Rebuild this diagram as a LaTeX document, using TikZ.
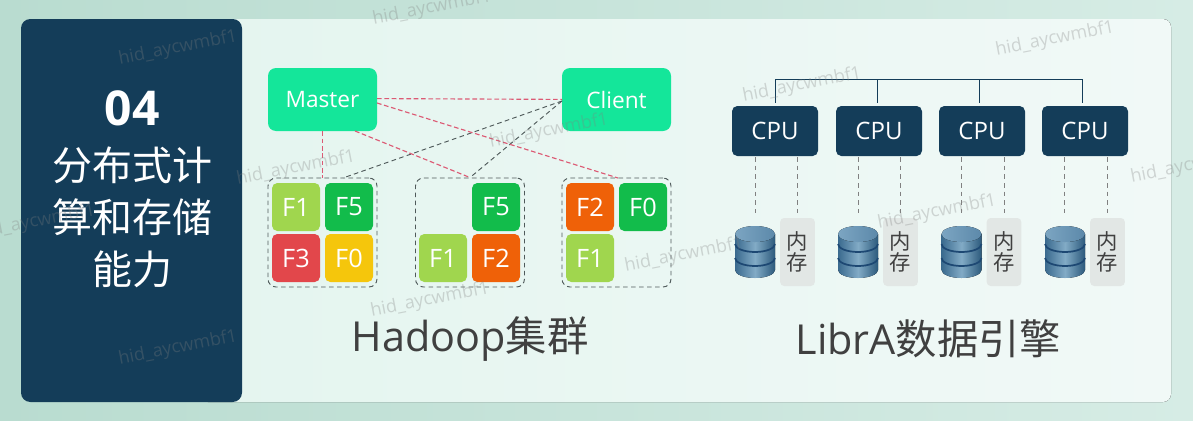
\documentclass[tikz,border=0pt]{standalone}
\usepackage{fontspec}
\setmainfont{Open Sans}
\newfontfamily\cjk{Noto Sans CJK SC}
\definecolor{navy}{HTML}{143D59}
\definecolor{mint}{HTML}{14E69A}
\definecolor{limeF}{HTML}{A0D64E}
\definecolor{greenF}{HTML}{12BC4B}
\definecolor{redF}{HTML}{E2474B}
\definecolor{yellowF}{HTML}{F5C60C}
\definecolor{orangeF}{HTML}{EF6108}
\definecolor{memgray}{HTML}{E2E7E5}
\definecolor{linkred}{HTML}{DC5A74}
\definecolor{linkgray}{HTML}{4F5A5A}
\definecolor{bgleft}{HTML}{B9DCD0}
\definecolor{bgright}{HTML}{D6ECE5}
\definecolor{panelleft}{HTML}{E4F5EF}
\definecolor{panelright}{HTML}{F1F9F7}
\definecolor{dbedge}{HTML}{3A6A8E}
\definecolor{dbmid}{HTML}{82ABC6}
\definecolor{dbdark}{HTML}{2C5A7C}
\definecolor{dbband}{HTML}{1D4873}
\definecolor{dbtopl}{HTML}{7CA5C2}
\definecolor{dbtopr}{HTML}{5C89AA}
\tikzset{
	rolebox/.style={fill=mint,rounded corners=6pt,inner sep=0,minimum width=81.75pt,minimum height=47.25pt,text=white,font=\fontsize{17}{20}\selectfont},
	groupbox/.style={draw=linkgray,dash pattern=on 3.5pt off 2.5pt,line width=.7pt,rounded corners=6pt,inner sep=0,minimum width=81.75pt,minimum height=81.75pt},
	filebox/.style={rounded corners=4pt,inner sep=0,minimum size=36pt,text=white,font=\fontsize{19}{22}\selectfont},
	cpubox/.style={fill=navy,rounded corners=4pt,inner sep=0,minimum width=64.5pt,minimum height=37.5pt,text=white,font=\fontsize{18}{22}\selectfont},
	membox/.style={fill=memgray,rounded corners=3pt,inner sep=0,minimum width=26pt,minimum height=51pt,align=center,text=black!75,font=\cjk\fontsize{16}{16}\selectfont},
	titletext/.style={inner sep=0,text=black!75,font=\fontsize{31}{38}\selectfont},
	redlink/.style={linkred,dash pattern=on 3.5pt off 2pt,line width=.85pt},
	graylink/.style={linkgray,dash pattern=on 3.5pt off 2.5pt,line width=.7pt},
	cpulink/.style={black!50,dash pattern=on 3.5pt off 3pt,line width=.6pt},
	marktext/.style={inner sep=0,rotate=11,text=gray,opacity=0.3,font=\fontsize{13.5}{16}\selectfont},
	dbicon/.pic={
		\fill[left color=dbedge,right color=dbdark,middle color=dbmid] (-20,8) -- (-20,44) arc (180:0:20 and 8) -- (20,8) -- cycle; % Body
		\draw[dbband,line width=1.3pt] (-20,18) arc (180:0:20 and 8); % Upper band
		\draw[dbband,line width=1.3pt] (-20,32) arc (180:0:20 and 8); % Lower band
		\fill[left color=dbtopl,right color=dbtopr] (0,8) ellipse (20 and 8); % Top face
	}
}
\begin{document}
\begin{tikzpicture}[x=0.75pt,y=-0.75pt]
	\useasboundingbox (0,0) rectangle (1193,421);
	\clip (0,0) rectangle (1193,421);

	% Background and panels
	\fill[left color=bgleft,right color=bgright] (0,0) rectangle (1193,421);
	\fill[left color=panelleft,right color=panelright,rounded corners=6pt] (200,19) rectangle (1171,402);
	\fill[navy,rounded corners=7pt] (21,19) rectangle (242,402);

	% Left title
	\node[inner sep=0,text=white,font=\fontsize{36}{42}\selectfont\bfseries] (num) at (132,108) {04};
	\node[inner sep=0,align=center,text=white,font=\cjk\fontsize{30}{39}\selectfont] (head) at (132,217) {分布式计\\算和存储\\能力};

	% Hadoop cluster
	\node[rolebox] (master) at (322.5,99.5) {Master};
	\node[rolebox] (client) at (616.5,99.5) {Client};

	\node[groupbox] (groupa) at (322.5,232.5) {};
	\node[groupbox] (groupb) at (470,232.5) {};
	\node[groupbox] (groupc) at (616.5,232.5) {};

	\node[filebox,fill=limeF] (a1) at (296,207) {F1};
	\node[filebox,fill=greenF] (a2) at (349,207) {F5};
	\node[filebox,fill=redF] (a3) at (296,258) {F3};
	\node[filebox,fill=yellowF] (a4) at (349,258) {F0};
	\node[filebox,fill=greenF] (b2) at (496,207) {F5};
	\node[filebox,fill=limeF] (b3) at (443,258) {F1};
	\node[filebox,fill=orangeF] (b4) at (496,258) {F2};
	\node[filebox,fill=orangeF] (c1) at (590,207) {F2};
	\node[filebox,fill=greenF] (c2) at (643,207) {F0};
	\node[filebox,fill=limeF] (c3) at (590,258) {F1};

	\coordinate (masterlow) at (355,131);
	\coordinate (masterside) at (377,103);
	\coordinate (masterright) at (377,98.6);
	\coordinate (clientleft) at (562,99.4);
	\coordinate (clientside) at (562,101);
	\coordinate (grouparight) at (343,178);
	\coordinate (groupcright) at (618,178);

	% Links of the cluster
	\draw[graylink] (clientside) -- (grouparight);
	\draw[graylink] (clientside) -- (groupb.north);
	\draw[redlink] (masterright) -- (clientleft);
	\draw[redlink] (masterside) -- (groupcright);
	\draw[redlink] (master.south) -- (groupa.north);
	\draw[redlink] (masterlow) -- (groupb.north);

	\node[titletext] (hadoop) at (470,339) {Hadoop{\cjk 集群}};

	% LibrA engine
	\coordinate (busleft) at (775,79);
	\coordinate (busright) at (1082,79);
	\draw[navy,semithick] (busleft) -- (busright);

	\foreach \n/\cx/\bx/\dbx/\lx/\rx/\mx in {1/775/775/755/755/797/797.5,2/879/877.5/858/858/900/900.5,3/982/979.5/961.5/961/1004/1004,4/1085/1082/1065/1064/1107/1107.5}{
		\node[cpubox] (cpu\n) at (\cx,131) {CPU};
		\node[membox] (mem\n) at (\mx,252) {内\\存};
		\pic at (\dbx,226) {dbicon};
		\coordinate (bustop\n) at (\bx,79);
		\coordinate (busdrop\n) at (\bx,103);
		\coordinate (cpul\n) at (\lx,157);
		\coordinate (cpur\n) at (\rx,157);
		\coordinate (dbtop\n) at (\lx,213);
		\coordinate (memtop\n) at (\rx,213);
		\draw[navy,semithick] (bustop\n) -- (busdrop\n);
		\draw[cpulink] (cpul\n) -- (dbtop\n);
		\draw[cpulink] (cpur\n) -- (memtop\n);
	}

	\node[titletext] (libra) at (928.5,339) {LibrA{\cjk 数据引擎}};

	% Watermarks
	\node[marktext] (mark1) at (178,48) {hid\_aycwmbf1};
	\node[marktext] (mark2) at (432,8) {hid\_aycwmbf1};
	\node[marktext] (mark3) at (1055,39) {hid\_aycwmbf1};
	\node[marktext] (mark4) at (802,85) {hid\_aycwmbf1};
	\node[marktext] (mark5) at (549,131) {hid\_aycwmbf1};
	\node[marktext] (mark6) at (296,168) {hid\_aycwmbf1};
	\node[marktext] (mark7) at (1190,166) {hid\_aycwmbf1};
	\node[marktext] (mark8) at (937,212) {hid\_aycwmbf1};
	\node[marktext] (mark9) at (684,255) {hid\_aycwmbf1};
	\node[marktext] (mark10) at (430,300) {hid\_aycwmbf1};
	\node[marktext] (mark11) at (178,348) {hid\_aycwmbf1};
	\node[marktext] (mark12) at (36,222) {hid\_aycwmbf1};
\end{tikzpicture}
\end{document}
